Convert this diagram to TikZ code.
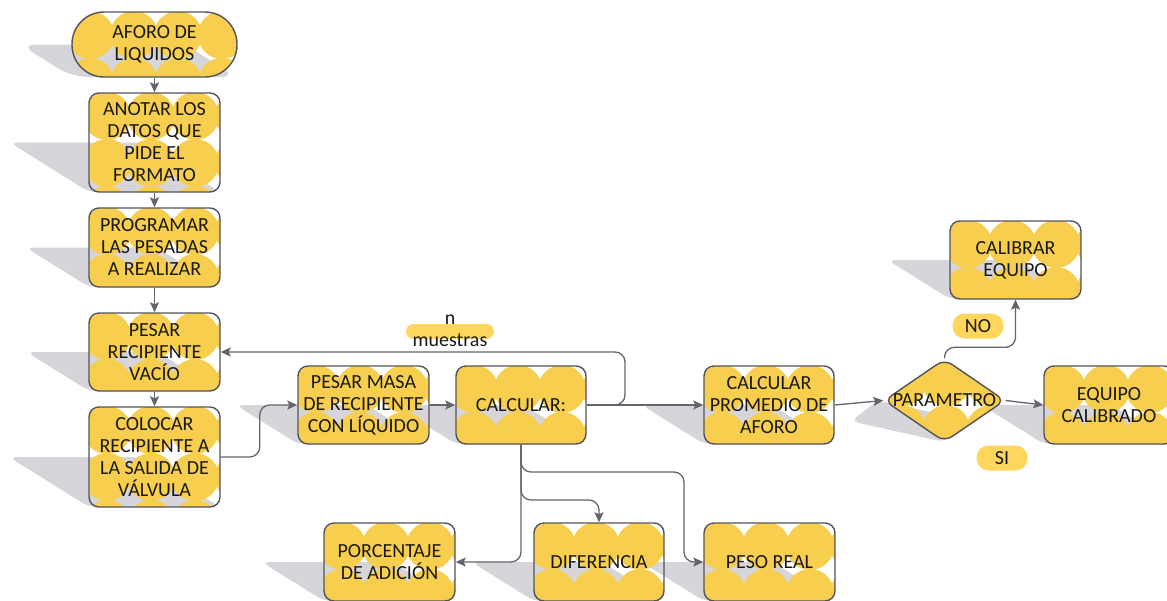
\documentclass[tikz,border=0pt]{standalone}
\usepackage{fontspec}
\setmainfont{Carlito}
\usetikzlibrary{shapes.geometric,arrows.meta,calc}

\definecolor{cardyellow}{RGB}{248,206,78}
\definecolor{pillyellow}{RGB}{255,214,92}
\definecolor{shadowgray}{RGB}{214,214,218}
\definecolor{edgegray}{RGB}{82,82,90}
\definecolor{linegray}{RGB}{100,100,110}
\definecolor{inkcol}{RGB}{25,25,25}

\newcommand\cardfont{\fontsize{20pt}{22pt}\selectfont}

% skewed ground shadow of a box given by left, top, right, bottom
\newcommand\groundshadow[5][8pt]{%
  \pgfmathsetmacro\shh{#5-#3}%
  \fill[shadowgray, rounded corners=#1]
    ({#2-0.8*\shh},{#5-0.5*\shh}) -- ({#4-0.8*\shh},{#5-0.5*\shh}) --
    (#4,#5) -- (#2,#5) -- cycle;}

\tikzset{
  dots/.style={path picture={
    \foreach \i in {-1,...,4}{\foreach \j in {0,...,2}{
      \fill[cardyellow] ($(path picture bounding box.north west)+(\i*44+18,\j*47+23)$) circle (24pt);}}}},
  card/.style={draw=edgegray, line width=1.4pt, rounded corners=10pt, dots,
    font=\cardfont, text=inkcol, align=center, inner sep=0pt},
  pill/.style={fill=pillyellow, rounded corners=#1, inner sep=0pt,
    font=\cardfont, text=inkcol},
  conn/.style={draw=linegray, line width=1.3pt, rounded corners=10pt, line join=round,
    -{Stealth[length=10pt,width=9pt,inset=2pt]}},
}

\begin{document}
\begin{tikzpicture}[x=1pt,y=-1pt]
\useasboundingbox (0,0) rectangle (1167,600);
\clip (0,0) rectangle (1167,600);
\fill[white] (0,0) rectangle (1167,600);

% shadows
\groundshadow[16pt]{72}{12}{237}{77}
\groundshadow{89}{93}{220}{192}
\groundshadow{89}{208}{220}{287}
\groundshadow{89}{313}{220}{391}
\groundshadow{89}{407}{220}{507}
\groundshadow{298}{366}{429}{444}
\groundshadow{456}{366}{586}{444}
\groundshadow{704}{366}{834}{444}
\groundshadow{1044}{366}{1174}{444}
\groundshadow{950}{221}{1081}{299}
\groundshadow{324}{523}{455}{601}
\groundshadow{534}{523}{664}{601}
\groundshadow{704}{523}{835}{601}
\fill[shadowgray, rounded corners=8pt] (878.1,400.5) -- (850.8,421.25) -- (944.5,442) -- (971.8,421.25) -- cycle;

% process boxes
\node[card, rounded corners=32pt, minimum width=165pt, minimum height=65pt] (aforo) at (154.5,44.5) {AFORO DE\\LIQUIDOS};
\node[card, minimum width=131pt, minimum height=99pt] (anotar) at (154.5,142.5) {ANOTAR LOS\\DATOS QUE\\PIDE EL\\FORMATO};
\node[card, minimum width=131pt, minimum height=79pt] (programar) at (154.5,247.5) {PROGRAMAR\\LAS PESADAS\\A REALIZAR};
\node[card, minimum width=131pt, minimum height=78pt] (vacio) at (154.5,352) {PESAR\\RECIPIENTE\\VACÍO};
\node[card, minimum width=131pt, minimum height=100pt] (colocar) at (154.5,457) {COLOCAR\\RECIPIENTE A\\LA SALIDA DE\\VÁLVULA};
\node[card, minimum width=131pt, minimum height=78pt] (masa) at (363.5,405) {PESAR MASA\\DE RECIPIENTE\\CON LÍQUIDO};
\node[card, minimum width=130pt, minimum height=78pt] (calc) at (521,405) {CALCULAR:};
\node[card, minimum width=130pt, minimum height=78pt] (prom) at (769,405) {CALCULAR\\PROMEDIO DE\\AFORO};
\node[card, diamond, rounded corners=9pt, minimum width=121pt, minimum height=83pt] (param) at (944.5,400.5) {\makebox[0pt]{PARAMETRO}};
\node[card, minimum width=130pt, minimum height=78pt] (equipo) at (1109,405) {EQUIPO\\CALIBRADO};
\node[card, minimum width=131pt, minimum height=78pt] (calibrar) at (1015.5,260) {CALIBRAR\\EQUIPO};
\node[card, minimum width=131pt, minimum height=78pt] (porc) at (389.5,562) {PORCENTAJE\\DE ADICIÓN};
\node[card, minimum width=130pt, minimum height=78pt] (difer) at (599,562) {DIFERENCIA};
\node[card, minimum width=131pt, minimum height=78pt] (peso) at (769.5,562) {PESO REAL};

% labels
\node[pill=7.5pt, minimum width=88pt, minimum height=15pt] (npill) at (450,331.5) {};
\node[font=\cardfont, text=inkcol, align=center, inner sep=0pt] (ntext) at (450,331) {n\\muestras};
\node[pill=12pt, minimum width=51pt, minimum height=25pt] (nolabel) at (978,326) {NO};
\node[pill=12pt, minimum width=51pt, minimum height=25pt] (silabel) at (1002,458) {SI};

% bend points
\coordinate (loopc) at (625,352);
\coordinate (b1) at (521,472);
\coordinate (b2) at (521,500);
\coordinate (k) at (684,562);

% connectors
\draw[conn] (aforo.south) -- (anotar.north);
\draw[conn] (anotar.south) -- (programar.north);
\draw[conn] (programar.south) -- (vacio.north);
\draw[conn] (vacio.south) -- (colocar.north);
\draw[conn] (colocar.east) -- ++(39,0) |- (masa.west);
\draw[conn] (masa.east) -- (calc.west);
\draw[conn] (calc.east) -- (prom.west);
\draw[conn] (calc.east) -| (loopc) -- (vacio.east);
\draw[conn] (prom.east) -- (param.west);
\draw[conn] (param.east) -- (equipo.west);
\draw[conn] (param.north) -- ++(0,-11) -| (calibrar.south);
\draw[conn] (calc.south) |- (porc.east);
\draw[conn] (calc.south) -- (b2) -| (difer.north);
\draw[conn] (calc.south) -- (b1) -| (k) -- (peso.west);
\end{tikzpicture}
\end{document}
